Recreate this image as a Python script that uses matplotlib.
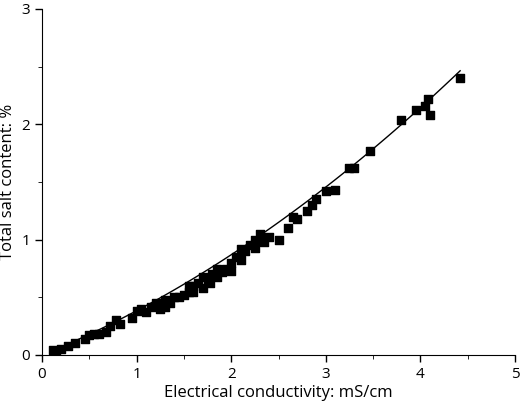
import numpy as np
import matplotlib
matplotlib.use("Agg")
import matplotlib.pyplot as plt

# Measured points (EC in mS/cm, total salt in %)
ec = [0.12, 0.15, 0.2, 0.28, 0.35, 0.45, 0.5, 0.55, 0.6, 0.68, 0.72, 0.78, 0.82, 0.95,
      1.0, 1.05, 1.1, 1.15, 1.2, 1.25, 1.3, 1.3, 1.35, 1.4, 1.45, 1.5, 1.55, 1.55, 1.6,
      1.6, 1.65, 1.7, 1.7, 1.75, 1.78, 1.8, 1.85, 1.85, 1.9, 1.95, 2.0, 2.0, 2.05, 2.1,
      2.1, 2.15, 2.2, 2.25, 2.25, 2.3, 2.35, 2.4, 2.5, 2.6, 2.65, 2.7, 2.8, 2.85, 2.9,
      3.0, 3.1, 3.25, 3.3, 3.47, 3.8, 3.95, 4.05, 4.08, 4.1, 4.42]
salt = [0.04, 0.03, 0.05, 0.08, 0.1, 0.14, 0.17, 0.18, 0.18, 0.2, 0.25, 0.3, 0.27, 0.32,
        0.38, 0.4, 0.37, 0.42, 0.45, 0.4, 0.48, 0.42, 0.45, 0.5, 0.5, 0.52, 0.55, 0.6, 0.6,
        0.55, 0.62, 0.58, 0.68, 0.65, 0.62, 0.7, 0.68, 0.75, 0.72, 0.75, 0.8, 0.73, 0.85, 0.82,
        0.92, 0.9, 0.95, 1.0, 0.93, 1.05, 0.98, 1.02, 1.0, 1.1, 1.2, 1.18, 1.25, 1.3, 1.35,
        1.42, 1.43, 1.62, 1.62, 1.77, 2.04, 2.12, 2.16, 2.22, 2.08, 2.40]

# Quadratic fit line y = a*x + b*x^2
fit_a = 0.333
fit_b = 0.0508
fit_range = (0.1, 4.42)

fig = plt.figure(figsize=(5.2, 4.01), dpi=100)
ax = fig.add_axes([42/520, 1 - 355/401, (515 - 42)/520, (355 - 9)/401])

plt.rcParams['font.family'] = ['Open Sans', 'DejaVu Sans']
xf = np.linspace(*fit_range, 100)
ax.plot(xf, fit_a * xf + fit_b * xf**2, color='black', lw=1)
ax.scatter(ec, salt, marker='s', s=36, color='black', zorder=3)

ax.set_xlim(0, 5)
ax.set_ylim(0, 3)
ax.set_xticks(range(6))
ax.set_yticks(range(4))
ax.set_xticks(np.arange(0.5, 5, 1), minor=True)
ax.set_yticks(np.arange(0.5, 3, 1), minor=True)
ax.tick_params(direction='out', length=5, labelsize=11, width=1)
ax.tick_params(which='minor', direction='out', length=3)
for lbl in ax.get_xticklabels() + ax.get_yticklabels():
    lbl.set_family(['Open Sans', 'DejaVu Sans'])
ax.spines['top'].set_visible(False)
ax.spines['right'].set_visible(False)
ax.set_xlabel('Electrical conductivity: mS/cm', fontsize=12, family=['Open Sans', 'DejaVu Sans'], labelpad=2)
ax.set_ylabel('Total salt content: %', fontsize=12, family=['Open Sans', 'DejaVu Sans'], labelpad=4)

fig.savefig('out.png', dpi=100)
